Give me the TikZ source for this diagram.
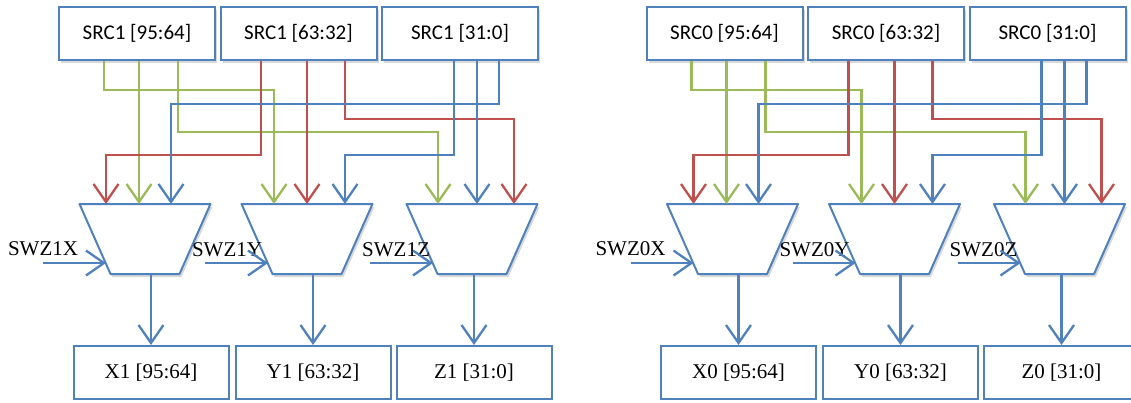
\documentclass[tikz,border=0pt]{standalone}
\usepackage{fontspec}
\setmainfont{Liberation Serif}
\newfontfamily\calibri{Carlito}
\usetikzlibrary{arrows.meta,shadows}
\definecolor{blu}{HTML}{4F81BD}
\definecolor{rd}{HTML}{C0504D}
\definecolor{grn}{HTML}{9BBB59}
\tikzset{
  softshadow/.style={drop shadow={shadow xshift=2pt,shadow yshift=-3pt,opacity=0.3}},
  srcbox/.style={draw=blu,line width=2pt,fill=white,softshadow,
    minimum width=156pt,minimum height=53pt,font=\calibri\fontsize{21}{25}\selectfont},
  outbox/.style={draw=blu,line width=2pt,fill=white,
    minimum width=155pt,minimum height=53pt,font=\fontsize{21}{25}\selectfont},
  muxbox/.style={minimum width=131pt,minimum height=70pt,inner sep=0pt,outer sep=0pt},
  muxline/.style={draw=blu,line width=2pt,fill=white,softshadow,line join=round},
  wire/.style={line width=2.3pt,-{Straight Barb[length=18pt,width=25pt]}},
  swz/.style={font=\fontsize{21}{25}\selectfont,anchor=base,inner sep=0pt},
}
\begin{document}
\begin{tikzpicture}[x=1pt,y=-1pt]
  \useasboundingbox (0,0) rectangle (1131,402);
  % SRC1 side
  \node[srcbox] (s1x) at (137,33.5) {SRC1 [95:64]};
  \node[srcbox] (s1y) at (298.5,33.5) {SRC1 [63:32]};
  \node[srcbox] (s1z) at (460,33.5) {SRC1 [31:0]};
  \node[muxbox] (m1x) at (145,239) {};
  \node[muxbox] (m1y) at (307,239) {};
  \node[muxbox] (m1z) at (472,239) {};
  \draw[muxline] (m1x.north west) -- (m1x.north east) -- ([xshift=-31pt]m1x.south east) -- ([xshift=31pt]m1x.south west) -- cycle;
  \draw[muxline] (m1y.north west) -- (m1y.north east) -- ([xshift=-31pt]m1y.south east) -- ([xshift=31pt]m1y.south west) -- cycle;
  \draw[muxline] (m1z.north west) -- (m1z.north east) -- ([xshift=-31pt]m1z.south east) -- ([xshift=31pt]m1z.south west) -- cycle;
  \node[outbox] (o1x) at (151,372.5) {X1 [95:64]};
  \node[outbox] (o1y) at (313,372.5) {Y1 [63:32]};
  \node[outbox] (o1z) at (474,372.5) {Z1 [31:0]};
  \begin{scope}[wire]
    \draw[grn] (104,0 |- s1x.south) -- (104,90) -| (274,0 |- m1y.north);
    \draw[grn] (139,0 |- s1x.south) -- (139,0 |- m1x.north);
    \draw[grn] (178,0 |- s1x.south) -- (178,132) -| (438,0 |- m1z.north);
    \draw[rd] (261,0 |- s1y.south) -- (261,155) -| (106,0 |- m1x.north);
    \draw[rd] (307,0 |- s1y.south) -- (307,0 |- m1y.north);
    \draw[rd] (345,0 |- s1y.south) -- (345,119) -| (514,0 |- m1z.north);
    \draw[blu] (454,0 |- s1z.south) -- (454,155) -| (345,0 |- m1y.north);
    \draw[blu] (477,0 |- s1z.south) -- (477,0 |- m1z.north);
    \draw[blu] (499,0 |- s1z.south) -- (499,104) -| (171,0 |- m1x.north);
    \draw[blu] (o1x.north |- m1x.south) -- (o1x.north);
    \draw[blu] (o1y.north |- m1y.south) -- (o1y.north);
    \draw[blu] (o1z.north |- m1z.south) -- (o1z.north);
  \end{scope}
  \node[swz] (l1x) at (43,255) {SWZ1X};
  \node[swz] (l1y) at (227,256.5) {SWZ1Y};
  \node[swz] (l1z) at (396,256.5) {SWZ1Z};
  \coordinate (c1x) at ([xshift=-102pt,yshift=-24pt]m1x.center);
  \coordinate (c1y) at ([xshift=-102pt,yshift=-24pt]m1y.center);
  \coordinate (c1z) at ([xshift=-102pt,yshift=-24pt]m1z.center);
  \draw[wire,blu] (c1x) -- ([xshift=-39pt,yshift=-24pt]m1x.center);
  \draw[wire,blu] (c1y) -- ([xshift=-39pt,yshift=-24pt]m1y.center);
  \draw[wire,blu] (c1z) -- ([xshift=-39pt,yshift=-24pt]m1z.center);
  % SRC0 side
  \begin{scope}[xshift=587.5pt]
    \node[srcbox] (s0x) at (137,33.5) {SRC0 [95:64]};
    \node[srcbox] (s0y) at (298.5,33.5) {SRC0 [63:32]};
    \node[srcbox] (s0z) at (460,33.5) {SRC0 [31:0]};
    \node[muxbox] (m0x) at (145,239) {};
    \node[muxbox] (m0y) at (307,239) {};
    \node[muxbox] (m0z) at (472,239) {};
    \draw[muxline] (m0x.north west) -- (m0x.north east) -- ([xshift=-31pt]m0x.south east) -- ([xshift=31pt]m0x.south west) -- cycle;
    \draw[muxline] (m0y.north west) -- (m0y.north east) -- ([xshift=-31pt]m0y.south east) -- ([xshift=31pt]m0y.south west) -- cycle;
    \draw[muxline] (m0z.north west) -- (m0z.north east) -- ([xshift=-31pt]m0z.south east) -- ([xshift=31pt]m0z.south west) -- cycle;
    \node[outbox] (o0x) at (151,372.5) {X0 [95:64]};
    \node[outbox] (o0y) at (313,372.5) {Y0 [63:32]};
    \node[outbox] (o0z) at (474,372.5) {Z0 [31:0]};
    \begin{scope}[wire]
      \draw[grn] (104,0 |- s0x.south) -- (104,90) -| (274,0 |- m0y.north);
      \draw[grn] (139,0 |- s0x.south) -- (139,0 |- m0x.north);
      \draw[grn] (178,0 |- s0x.south) -- (178,132) -| (438,0 |- m0z.north);
      \draw[rd] (261,0 |- s0y.south) -- (261,155) -| (106,0 |- m0x.north);
      \draw[rd] (307,0 |- s0y.south) -- (307,0 |- m0y.north);
      \draw[rd] (345,0 |- s0y.south) -- (345,119) -| (514,0 |- m0z.north);
      \draw[blu] (454,0 |- s0z.south) -- (454,155) -| (345,0 |- m0y.north);
      \draw[blu] (477,0 |- s0z.south) -- (477,0 |- m0z.north);
      \draw[blu] (499,0 |- s0z.south) -- (499,104) -| (171,0 |- m0x.north);
      \draw[blu] (o0x.north |- m0x.south) -- (o0x.north);
      \draw[blu] (o0y.north |- m0y.south) -- (o0y.north);
      \draw[blu] (o0z.north |- m0z.south) -- (o0z.north);
    \end{scope}
    \node[swz] (l0x) at (43,255) {SWZ0X};
    \node[swz] (l0y) at (227,256.5) {SWZ0Y};
    \node[swz] (l0z) at (396,256.5) {SWZ0Z};
    \coordinate (c0x) at ([xshift=-102pt,yshift=-24pt]m0x.center);
    \coordinate (c0y) at ([xshift=-102pt,yshift=-24pt]m0y.center);
    \coordinate (c0z) at ([xshift=-102pt,yshift=-24pt]m0z.center);
    \draw[wire,blu] (c0x) -- ([xshift=-39pt,yshift=-24pt]m0x.center);
    \draw[wire,blu] (c0y) -- ([xshift=-39pt,yshift=-24pt]m0y.center);
    \draw[wire,blu] (c0z) -- ([xshift=-39pt,yshift=-24pt]m0z.center);
  \end{scope}
\end{tikzpicture}
\end{document}
